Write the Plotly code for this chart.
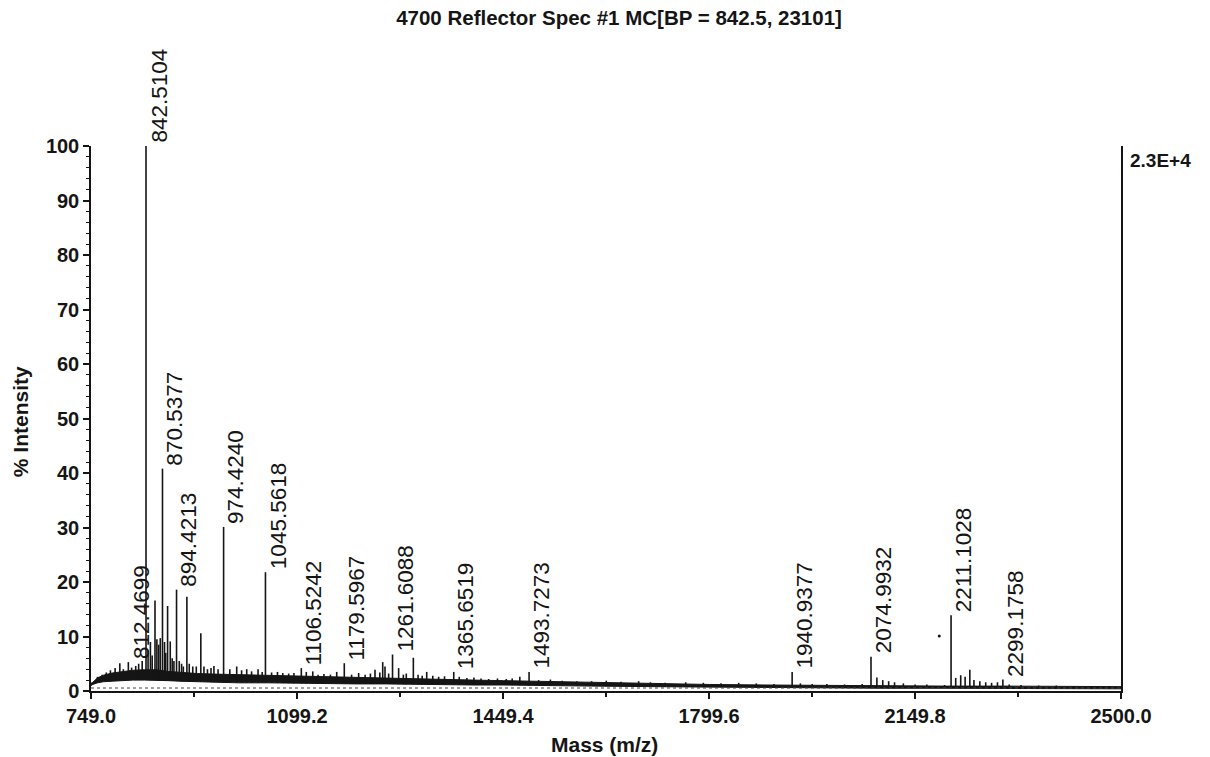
import numpy as np
import plotly.graph_objects as go

# ---------------- data ----------------
title_text = "4700 Reflector Spec #1 MC[BP = 842.5, 23101]"
max_count_label = "2.3E+4"

# labelled peaks: m/z and % intensity
label_mz = [812.4699, 842.5104, 870.5377, 894.4213, 974.4240, 1045.5618, 1106.5242,
            1179.5967, 1261.6088, 1365.6519, 1493.7273, 1940.9377, 2074.9932,
            2211.1028, 2299.1758]
label_int = [5.3, 100.0, 40.8, 18.6, 30.1, 21.8, 4.2,
             5.1, 6.7, 3.5, 3.5, 3.5, 6.3,
             13.9, 2.1]

# other (unlabelled) peaks
minor_mz = [760, 768, 775, 782, 790, 798, 804, 818, 825, 830, 836,
            846, 850, 853, 857.8, 861, 864, 866.8, 874, 876, 879.2, 883.7, 887, 890,
            899, 903, 906, 912, 916, 922, 928, 935.7, 941, 947, 953, 958, 965,
            985, 996.7, 1005, 1013.7, 1022, 1033, 1040, 1056, 1066, 1075, 1085, 1094,
            1115, 1126, 1135, 1145, 1156, 1166.7, 1192, 1204, 1215, 1224, 1231.8, 1240,
            1244.9, 1248.8, 1255, 1272, 1280, 1285, 1297, 1305, 1312, 1319.7, 1330,
            1340, 1350, 1375, 1388, 1400, 1412, 1425, 1440, 1455, 1465, 1478, 1510,
            1530, 1550, 1575, 1600, 1625, 1650, 1680, 1700, 1725, 1760, 1790, 1820,
            1850, 1880, 1910, 1955, 1975, 2000, 2030, 2060, 2085, 2095, 2105, 2115,
            2130, 2150, 2170, 2200, 2219, 2227.5, 2235, 2243, 2250, 2260, 2270, 2280,
            2290, 2310, 2330, 2360, 2390, 2420, 2450, 2480]
minor_int = [2.6, 3.0, 3.4, 3.8, 4.2, 5.1, 4.0, 4.3, 4.6, 5.0, 5.5,
             7.5, 9.0, 6.5, 16.6, 9.5, 8.5, 9.7, 9.0, 7.0, 15.6, 9.1, 6.0, 5.5,
             5.5, 5.0, 4.5, 17.3, 5.0, 4.5, 4.5, 10.6, 4.5, 4.0, 4.2, 4.6, 4.0,
             4.0, 4.5, 3.8, 4.0, 3.6, 4.0, 3.5, 3.4, 3.5, 3.3, 3.2, 3.3,
             3.5, 3.6, 3.0, 3.1, 3.0, 3.5, 3.0, 3.3, 3.0, 3.2, 3.9, 3.4,
             5.3, 4.5, 3.2, 4.2, 3.0, 3.2, 6.1, 3.0, 2.8, 3.5, 2.8,
             2.6, 2.7, 2.6, 2.4, 2.5, 2.3, 2.2, 2.3, 2.2, 2.3, 2.6, 2.0,
             2.1, 1.9, 1.8, 1.8, 1.9, 1.7, 1.8, 1.6, 1.5, 1.6, 1.5, 1.4,
             1.5, 1.4, 1.3, 1.4, 1.3, 1.3, 1.2, 1.3, 2.5, 2.0, 1.8, 1.6,
             1.4, 1.2, 1.2, 1.1, 2.4, 2.9, 2.6, 3.9, 2.0, 1.8, 1.6, 1.5,
             1.6, 1.2, 1.1, 1.0, 1.0, 0.9, 0.9, 0.9]

# noise band (lower / upper envelope of the baseline)
band_mz = [749, 752, 760, 770, 785, 800, 820, 840, 860, 880, 900, 930, 960, 1000,
           1050, 1100, 1150, 1200, 1250, 1300, 1350, 1400, 1450, 1500, 1550, 1600,
           1700, 1800, 1900, 2000, 2100, 2200, 2300, 2400, 2500]
band_hi = [1.4, 1.6, 2.4, 2.9, 3.3, 3.5, 3.8, 3.9, 3.9, 3.6, 3.4, 3.2, 3.1, 3.0,
           2.8, 2.7, 2.5, 2.4, 2.3, 2.2, 2.1, 2.0, 1.9, 1.8, 1.6, 1.5,
           1.3, 1.2, 1.1, 1.0, 1.0, 0.9, 0.9, 0.8, 0.8]
band_lo = [1.0, 1.2, 1.5, 1.7, 1.8, 1.9, 2.0, 2.0, 2.0, 1.9, 1.8, 1.7, 1.6, 1.5,
           1.5, 1.4, 1.4, 1.3, 1.3, 1.2, 1.2, 1.1, 1.1, 1.0, 1.0, 0.9,
           0.8, 0.7, 0.6, 0.6, 0.5, 0.5, 0.5, 0.4, 0.4]

stray_dot = ([2191], [10.1])

x_ticks = [749.0, 1099.2, 1449.4, 1799.6, 2149.8, 2500.0]
x_minor = [924.1, 1274.3, 1624.5, 1974.7, 2324.9]
y_ticks = [0, 10, 20, 30, 40, 50, 60, 70, 80, 90, 100]

# ---------------- figure ----------------
INK = "#151515"
FONT = "Liberation Sans, Arial, sans-serif"

fig = go.Figure()

# noise band
fig.add_trace(go.Scatter(x=band_mz, y=band_lo, mode="lines",
                         line=dict(color=INK, width=1), hoverinfo="skip", showlegend=False))
fig.add_trace(go.Scatter(x=band_mz, y=band_hi, mode="lines", fill="tonexty",
                         fillcolor=INK, line=dict(color=INK, width=1),
                         hoverinfo="skip", showlegend=False))

# stick peaks
all_mz = list(label_mz) + list(minor_mz)
all_int = list(label_int) + list(minor_int)
xs, ys = [], []
for m, h in zip(all_mz, all_int):
    foot = float(np.interp(m, band_mz, band_lo))
    xs += [m, m, None]
    ys += [foot, h, None]
fig.add_trace(go.Scatter(x=xs, y=ys, mode="lines", line=dict(color=INK, width=1.6),
                         hoverinfo="skip", showlegend=False))

# stray dot
fig.add_trace(go.Scatter(x=stray_dot[0], y=stray_dot[1], mode="markers",
                         marker=dict(color=INK, size=3), hoverinfo="skip", showlegend=False))

# peak labels
for m, h in zip(label_mz, label_int):
    fig.add_annotation(x=m, y=h, xref="x", yref="y", text=f"{m:.4f}",
                       textangle=-90, showarrow=False, xanchor="left", yanchor="bottom",
                       xshift=-2, yshift=1,
                       font=dict(family=FONT, size=22.5, color=INK))

# double baseline line just above the axis
fig.add_shape(type="line", xref="x", yref="y", x0=749, x1=2500, y0=0.55, y1=0.55,
              line=dict(color="#444", width=1, dash="dot"))

# right-hand max count label
fig.add_annotation(x=1, y=1, xref="paper", yref="paper", text=f"<b>{max_count_label}</b>",
                   showarrow=False, xanchor="left", yanchor="top", xshift=7, yshift=-2,
                   font=dict(family=FONT, size=19, color=INK))

# axis titles
fig.add_annotation(x=0.499, y=-0.099, xref="paper", yref="paper", text="<b>Mass (m/z)</b>",
                   showarrow=False, xanchor="center", yanchor="middle",
                   font=dict(family=FONT, size=21, color=INK))
fig.add_annotation(x=-0.069, y=0.495, xref="paper", yref="paper", text="<b>% Intensity</b>",
                   showarrow=False, xanchor="center", yanchor="middle", textangle=-90,
                   font=dict(family=FONT, size=21, color=INK))

fig.update_layout(
    width=1210, height=757,
    margin=dict(l=91, r=89, t=146, b=66),
    paper_bgcolor="white", plot_bgcolor="white",
    title=dict(text=f"<b>{title_text}</b>", x=0.5116, xref="container", xanchor="center",
               y=0.976, yref="container", yanchor="middle",
               font=dict(family=FONT, size=20.5, color=INK)),
    showlegend=False,
)

fig.update_xaxes(
    range=[749, 2500], showgrid=False, zeroline=False,
    showline=True, linecolor=INK, linewidth=2,
    tickmode="array", tickvals=x_ticks, ticktext=[f"{v:.1f}" for v in x_ticks],
    ticks="outside", ticklen=6, tickwidth=2, tickcolor=INK,
    tickfont=dict(family=FONT, size=20, color=INK, weight="bold"),
    minor=dict(tickmode="array", tickvals=x_minor, ticks="outside", ticklen=4,
               tickwidth=1.5, tickcolor=INK, showgrid=False),
)
fig.update_yaxes(
    range=[0, 100], showgrid=False, zeroline=False,
    showline=True, linecolor=INK, linewidth=1.5, mirror=True,
    tickmode="array", tickvals=y_ticks, ticktext=[str(v) for v in y_ticks],
    ticks="outside", ticklen=6, tickwidth=1.5, tickcolor=INK,
    tickfont=dict(family=FONT, size=20, color=INK, weight="bold"),
    minor=dict(dtick=2, tick0=0, ticks="outside", ticklen=3, tickwidth=1,
               tickcolor=INK, showgrid=False),
)

fig.write_html("out.html")
